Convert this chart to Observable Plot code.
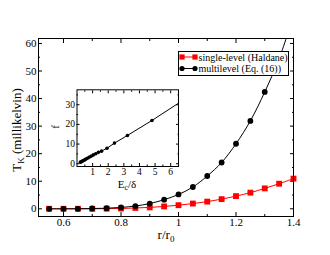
<!DOCTYPE html>
<html><head><meta charset="utf-8">
<script src="https://cdn.jsdelivr.net/npm/d3@7"></script>
<script src="https://cdn.jsdelivr.net/npm/@observablehq/plot@0.6"></script>
<style>
html,body{margin:0;padding:0;background:white;}
#wrap{position:relative;width:330px;height:255px;}
#inset{position:absolute;left:50px;top:80px;}
</style>
</head><body>
<div id="wrap"><div id="main"></div><div id="inset"></div></div>
<script>
// ---- main chart data ----
const rValues = [0.55,0.6,0.65,0.7,0.75,0.8,0.85,0.9,0.95,1.0,1.05,1.1,1.15,1.2,1.25,1.3,1.35,1.4];
const haldaneTK = [0,0,0,0,0.05,0.1,0.3,0.5,0.85,1.3,1.9,2.6,3.5,4.6,5.85,7.4,9.1,10.95];
const multiR = [0.55,0.6,0.65,0.7,0.75,0.8,0.85,0.9,0.95,1.0,1.05,1.1,1.15,1.2,1.25,1.3];
const multiTK = [0,0,0,0.1,0.2,0.5,1.0,1.9,3.3,5.2,7.9,11.9,16.8,23.6,31.9,42.4];
const multiCurveR = [1.35,1.4];
const multiCurveTK = [54.5,70];
const xMajor = [0.6,0.8,1,1.2,1.4];
const xMinor = [0.7,0.9,1.1,1.3];
const yMajor = [0,10,20,30,40,50,60];
const yMinor = [5,15,25,35,45,55];
const legendLabels = ["single-level (Haldane)","multilevel (Eq. (16))"];

// ---- inset data ----
const ecDelta = [0.22,0.27,0.32,0.38,0.45,0.52,0.6,0.7,0.8,0.92,1.05,1.2,1.37,1.57,1.92,2.4,3.23,4.8];
const fValues = [0.8,1.0,1.2,1.5,1.8,2.1,2.5,2.9,3.4,3.9,4.5,5.1,5.8,6.4,7.9,10.5,14.4,22.0];
const fLineEndX = [6.5];
const fLineEndY = [30.8];
const ixMajor = [1,2,3,4,5,6];
const ixMinor = [0.5,1.5,2.5,3.5,4.5,5.5];
const iyMajor = [0,10,20,30];
const iyMinor = [5,15,25,35];

const haldaneRows = rValues.map((r,i)=>({r, t: haldaneTK[i]}));
const multiRows = multiR.map((r,i)=>({r, t: multiTK[i]}));
const multiCurveRows = multiRows.concat(multiCurveR.map((r,i)=>({r, t: multiCurveTK[i]})));
const insetRows = ecDelta.map((e,i)=>({e, f: fValues[i]}));
const insetLineRows = insetRows.concat(fLineEndX.map((e,i)=>({e, f: fLineEndY[i]})));

const FONT = "Liberation Serif, Times New Roman, serif";
const fmt = d => String(d);
const none = () => "";

function axes(xMaj, xMin, yMaj, yMin, big, small, pad, fs) {
  return [
    Plot.axisX({ticks: xMaj, tickSize: -big, tickPadding: pad + big, tickFormat: fmt, label: null, fontSize: fs}),
    Plot.axisX({ticks: xMin, tickSize: -small, tickFormat: none, label: null}),
    Plot.axisX({anchor: "top", ticks: xMaj, tickSize: -big, tickFormat: none, label: null}),
    Plot.axisX({anchor: "top", ticks: xMin, tickSize: -small, tickFormat: none, label: null}),
    Plot.axisY({ticks: yMaj, tickSize: -big, tickPadding: pad + big, tickFormat: fmt, label: null, fontSize: fs}),
    Plot.axisY({ticks: yMin, tickSize: -small, tickFormat: none, label: null}),
    Plot.axisY({anchor: "right", ticks: yMaj, tickSize: -big, tickFormat: none, label: null}),
    Plot.axisY({anchor: "right", ticks: yMin, tickSize: -small, tickFormat: none, label: null})
  ];
}

const main = Plot.plot({
  width: 330, height: 255,
  marginLeft: 38, marginRight: 37, marginTop: 38, marginBottom: 39,
  style: {fontFamily: FONT, fontSize: "11px", background: "white", color: "black"},
  x: {domain: [0.513, 1.4], label: null},
  y: {domain: [-2.8, 61.8], label: null},
  marks: [
    ...axes(xMajor, xMinor, yMajor, yMinor, 4, 2, 2, 11),
    Plot.line(haldaneRows, {x: "r", y: "t", stroke: "#ff0000", strokeWidth: 1, curve: "catmull-rom"}),
    Plot.dot(haldaneRows, {x: "r", y: "t", symbol: "square", fill: "#ff0000", stroke: "none", r: 3.3}),
    Plot.line(multiCurveRows, {x: "r", y: "t", stroke: "black", strokeWidth: 1, curve: "catmull-rom", clip: true}),
    Plot.dot(multiRows, {x: "r", y: "t", fill: "black", stroke: "none", r: 2.9}),
    Plot.frame({stroke: "black"})
  ]
});
document.getElementById("main").appendChild(main);

// axis titles with subscripts and legend
const svg = d3.select(main);
const yl = svg.append("text").attr("transform","translate(21,130) rotate(-90)")
  .attr("text-anchor","middle").attr("font-family",FONT).attr("font-size",13).attr("fill","black");
yl.append("tspan").text("T");
yl.append("tspan").attr("font-size",9).attr("dy",3).text("K");
yl.append("tspan").attr("dy",-3).text(" (millikelvin)");
const xl = svg.append("text").attr("x",166).attr("y",239)
  .attr("text-anchor","middle").attr("font-family",FONT).attr("font-size",13).attr("fill","black");
xl.append("tspan").text("r/r");
xl.append("tspan").attr("font-size",9).attr("dy",3).text("0");

const lg = svg.append("g").attr("font-family",FONT).attr("font-size",10).attr("text-anchor","start");
lg.append("rect").attr("x",178.5).attr("y",51.5).attr("width",110).attr("height",24)
  .attr("fill","white").attr("stroke","black").attr("stroke-width",1);
const lgY = [57, 68.5];
const lgCol = ["#ff0000","black"];
legendLabels.forEach((lab,i)=>{
  lg.append("line").attr("x1",182).attr("x2",195).attr("y1",lgY[i]).attr("y2",lgY[i]).attr("stroke",lgCol[i]);
  [182,195].forEach(cx=>{
    if (i===0) lg.append("rect").attr("x",cx-2.6).attr("y",lgY[i]-2.6).attr("width",5.2).attr("height",5.2).attr("fill",lgCol[i]);
    else lg.append("circle").attr("cx",cx).attr("cy",lgY[i]).attr("r",2.6).attr("fill",lgCol[i]);
  });
  lg.append("text").attr("x",198.5).attr("y",lgY[i]+3.5).attr("text-anchor","start").attr("fill","black").text(lab);
});

// ---- inset ----
const inset = Plot.plot({
  width: 135, height: 112,
  marginLeft: 26.5, marginRight: 7, marginTop: 9.3, marginBottom: 26,
  style: {fontFamily: FONT, fontSize: "9px", background: "transparent", color: "black", overflow: "visible"},
  x: {domain: [0, 6.5], label: null},
  y: {domain: [-1.4, 37.6], label: null},
  marks: [
    Plot.frame({fill: "white", stroke: "none"}),
    ...axes(ixMajor, ixMinor, iyMajor, iyMinor, 3, 1.5, 2, 9.5),
    Plot.line(insetLineRows, {x: "e", y: "f", stroke: "black", strokeWidth: 1}),
    Plot.dot(insetRows, {x: "e", y: "f", fill: "black", stroke: "none", r: 1.8}),
    Plot.frame({stroke: "black"})
  ]
});
document.getElementById("inset").appendChild(inset);
const isvg = d3.select(inset);
isvg.append("text").attr("transform","translate(9,47) rotate(-90)").attr("text-anchor","middle")
  .attr("font-family",FONT).attr("font-size",11).attr("fill","black").text("f");
const il = isvg.append("text").attr("x",77).attr("y",107.5).attr("text-anchor","middle")
  .attr("font-family",FONT).attr("font-size",11).attr("fill","black");
il.append("tspan").text("E");
il.append("tspan").attr("font-size",8).attr("dy",2.5).text("c");
il.append("tspan").attr("dy",-2.5).text("/δ");
</script>
</body></html>
